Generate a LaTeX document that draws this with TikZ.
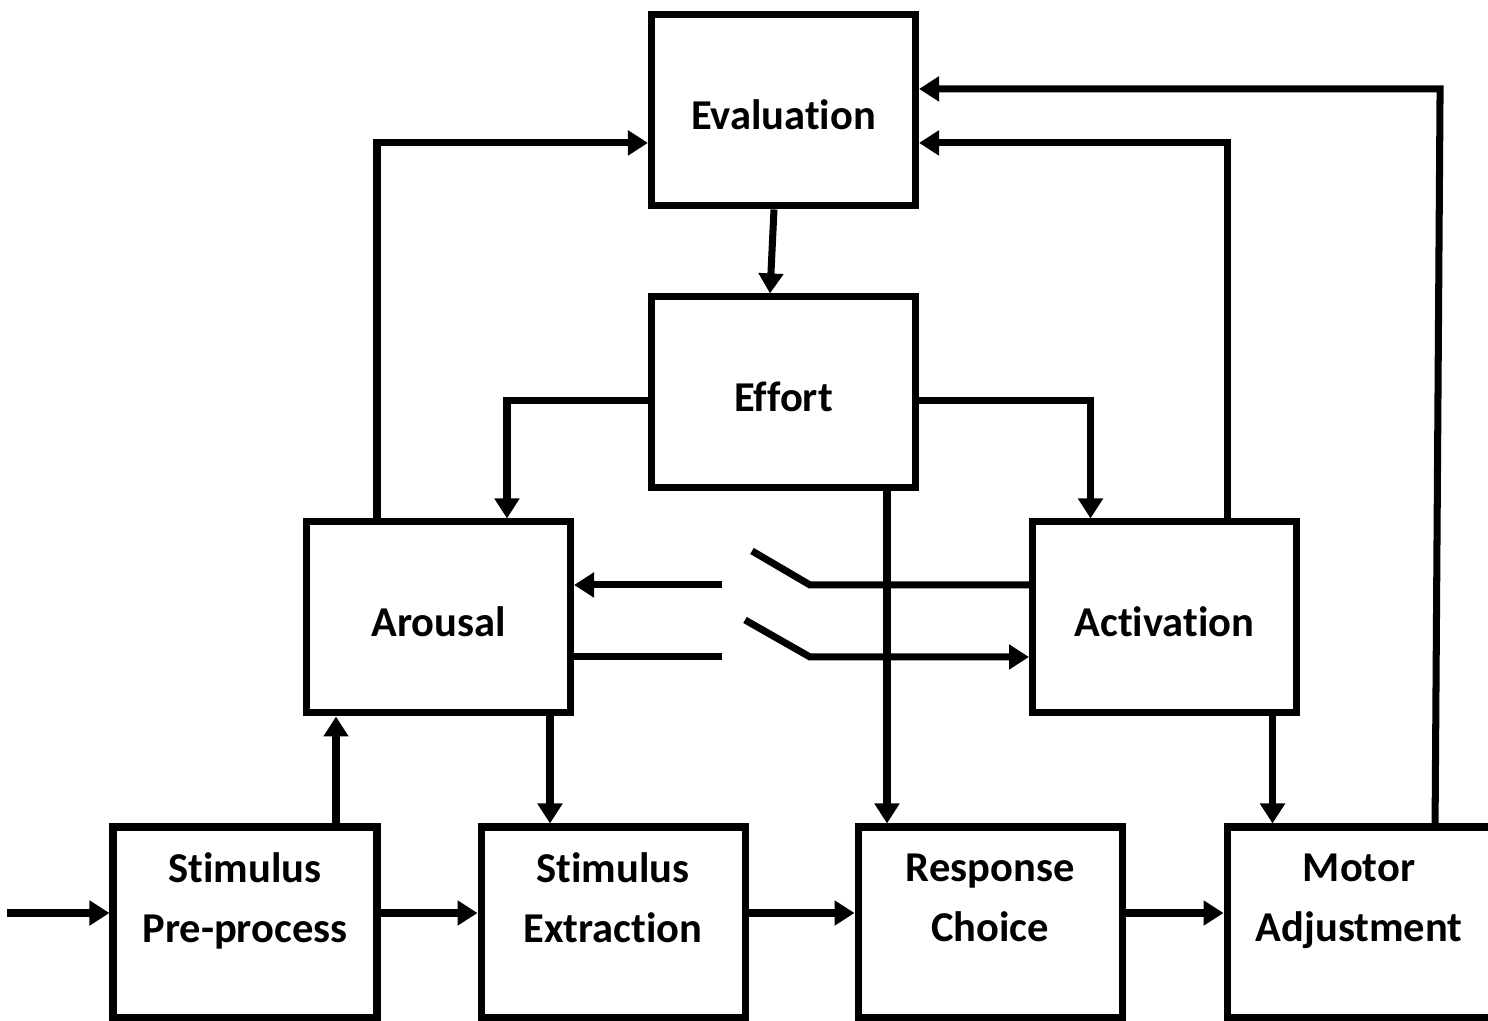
\documentclass[tikz,border=0pt]{standalone}
\usepackage{fontspec}
\setmainfont{Carlito}[Ligatures=NoCommon]
\usetikzlibrary{arrows.meta,positioning,calc}

\begin{document}
\begin{tikzpicture}[>={Triangle[length=2mm,width=2.4mm]},line width=2pt,node distance=10mm,
 box/.style={draw,minimum width=2.64cm,minimum height=1.91cm,inner sep=0pt,align=center,font=\bfseries\fontsize{12.1}{17}\selectfont},
 onebox/.style={box,text height=3.9mm,text depth=0pt}]
\clip (0,0) rectangle (14.88,-10.21);
\node[box] (pre) at (2.45,-9.225) {Stimulus\\Pre-process\\[-1mm]\mbox{}};
\node[box,right=9.7mm of pre] (extr) {Stimulus\\Extraction\\[-1mm]\mbox{}};
\node[box,right=10.6mm of extr] (resp) {Response\\Choice\\[-1mm]\mbox{}};
\node[box,right=9.8mm of resp] (motor) {Motor\\Adjustment\\[-1mm]\mbox{}};
\node[onebox,above=10.7mm of pre,xshift=19.35mm] (arousal) {Arousal};
\node[onebox,right=45.5mm of arousal] (activation) {Activation};
\node[onebox,above=2.7mm of arousal,xshift=34.5mm] (effort) {Effort};
\node[onebox,above=8.4mm of effort] (eval) {Evaluation};
\coordinate (input) at ([xshift=-10.2mm,yshift=.95mm]pre.west);
\draw[->] (input) -- (input -| pre.west);
\draw[->] ([yshift=.95mm]pre.east) -- ([yshift=.95mm]extr.west);
\draw[->] ([yshift=.95mm]extr.east) -- ([yshift=.95mm]resp.west);
\draw[->] ([yshift=.95mm]resp.east) -- ([yshift=.95mm]motor.west);
\draw[->] ([xshift=9.1mm]pre.north) -- ([xshift=9.1mm]pre.north |- arousal.south);
\draw[->] ([xshift=11.15mm]arousal.south) -- ([xshift=11.15mm]arousal.south |- extr.north);
\draw[->] ([xshift=-6.15mm]arousal.north) |- ([yshift=-3.25mm]eval.west);
\draw[->] ([xshift=-.95mm]eval.south) -- ([xshift=-1.35mm]effort.north);
\draw[->] ([yshift=-.85mm]effort.west) -| ([xshift=6.85mm]arousal.north);
\draw[->] ([yshift=-.85mm]effort.east) -| ([xshift=-7.4mm]activation.north);
\draw[->] ([xshift=10.35mm]effort.south) -- ([xshift=10.35mm]effort.south |- resp.north);
\draw[->] ([xshift=6.3mm]activation.north) |- ([yshift=-3.25mm]eval.east);
\draw[->] ([xshift=10.8mm]activation.south) -- ([xshift=10.8mm]activation.south |- motor.north);
\coordinate (motorup) at ([xshift=7.6mm]motor.north);
\coordinate (evalin) at ([yshift=2.15mm]eval.east);
\draw[->] (motorup) -- ($(motorup |- evalin)+(.05,0)$) -- (evalin);
\coordinate (swtop) at ([xshift=-21.9mm,yshift=3.25mm]activation.west);
\draw (activation.west |- swtop) -- (swtop) -- ++(-.58,.34);
\coordinate (stubtop) at ([xshift=14.8mm,yshift=3.25mm]arousal.east);
\draw[->] (stubtop) -- (stubtop -| arousal.east);
\coordinate (stubbot) at ([xshift=14.8mm,yshift=-3.95mm]arousal.east);
\draw (stubbot -| arousal.east) -- (stubbot);
\coordinate (swbot) at ([xshift=-21.9mm,yshift=-3.95mm]activation.west);
\draw[->] ($(swbot)+(-.65,.37)$) -- (swbot) -- (swbot -| activation.west);
\end{tikzpicture}
\end{document}
